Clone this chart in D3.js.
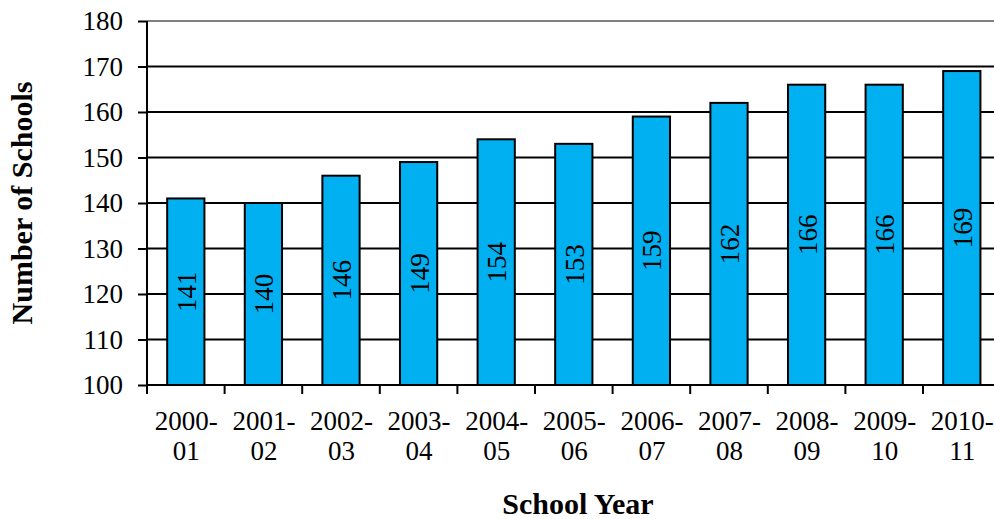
<!DOCTYPE html>
<meta charset="utf-8">
<style>
body { margin: 0; background: #fff; }
svg text { font-family: "Liberation Serif", "Times New Roman", serif; fill: #000; }
.tick-label { font-size: 27px; }
.title { font-size: 30px; font-weight: bold; }
.bar { fill: #00b0f0; stroke: #000; stroke-width: 2; }
.grid { stroke: #000; stroke-width: 2; }
</style>
<body>
<script src="https://d3js.org/d3.v7.min.js"></script>
<script>
// school years (two lines each) and number of schools
var years = ["2000-01", "2001-02", "2002-03", "2003-04", "2004-05", "2005-06",
             "2006-07", "2007-08", "2008-09", "2009-10", "2010-11"];
var schools = [141, 140, 146, 149, 154, 153, 159, 162, 166, 166, 169];
var yTicks = [100, 110, 120, 130, 140, 150, 160, 170, 180];

var width = 994, height = 519;
var plotLeft = 147, plotTop = 21, plotBottom = 385;

var svg = d3.select("body").append("svg")
    .attr("width", width)
    .attr("height", height);

var x = d3.scaleBand()
    .domain(years)
    .range([plotLeft, plotLeft + 11 * 77.6])
    .paddingInner(0.52)
    .paddingOuter(0.26);

var y = d3.scaleLinear()
    .domain([100, 180])
    .range([plotBottom, plotTop]);

// gridlines
svg.selectAll(".grid")
    .data(yTicks.filter(function(d) { return d > 100; }))
    .enter().append("line")
    .attr("class", "grid")
    .attr("x1", plotLeft).attr("x2", width)
    .attr("y1", function(d) { return y(d); })
    .attr("y2", function(d) { return y(d); })
    .style("stroke", function(d) { return d == 180 ? "#808080" : "#000"; });

// bars
svg.selectAll(".bar")
    .data(schools)
    .enter().append("rect")
    .attr("class", "bar")
    .attr("x", function(d, i) { return x(years[i]); })
    .attr("width", x.bandwidth())
    .attr("y", function(d) { return y(d); })
    .attr("height", function(d) { return y(100) - y(d); });

// value labels, rotated, centred in bar
svg.selectAll(".val")
    .data(schools)
    .enter().append("text")
    .attr("class", "tick-label")
    .attr("text-anchor", "middle")
    .attr("dominant-baseline", "central")
    .attr("transform", function(d, i) {
        var cx = x(years[i]) + x.bandwidth() / 2 + 1;
        var cy = (y(d) + y(100)) / 2;
        return "translate(" + cx + "," + cy + ") rotate(-90)";
    })
    .text(function(d) { return d; });

// y axis
var yAxis = svg.append("g")
    .attr("transform", "translate(" + plotLeft + ",0)")
    .call(d3.axisLeft(y).tickValues(yTicks).tickSize(9).tickPadding(15).tickFormat(d3.format("d")));
yAxis.selectAll("line").attr("stroke", "#000").attr("stroke-width", 2);
yAxis.select(".domain").attr("stroke", "#000").attr("stroke-width", 2)
    .attr("d", "M0," + plotBottom + "V" + plotTop);
yAxis.selectAll("text").attr("class", "tick-label");
yAxis.attr("font-size", null).attr("font-family", null);

// x axis
var xAxis = svg.append("g")
    .attr("transform", "translate(0," + plotBottom + ")")
    .call(d3.axisBottom(x).tickSize(0).tickFormat(""));
xAxis.select(".domain").attr("stroke", "#000").attr("stroke-width", 2)
    .attr("d", "M" + plotLeft + ",0H" + width);
xAxis.selectAll(".tick").remove();

// tick marks at category boundaries
svg.selectAll(".xtick")
    .data(years)
    .enter().append("line")
    .attr("x1", function(d) { return x(d) - x.step() * x.paddingOuter(); })
    .attr("x2", function(d) { return x(d) - x.step() * x.paddingOuter(); })
    .attr("y1", plotBottom).attr("y2", plotBottom + 9)
    .attr("stroke", "#000").attr("stroke-width", 2);

// category labels on two lines
var lab = svg.selectAll(".xlab")
    .data(years)
    .enter().append("text")
    .attr("class", "tick-label")
    .attr("text-anchor", "middle");
lab.append("tspan")
    .attr("x", function(d) { return x(d) + x.bandwidth() / 2 + 0.5; })
    .attr("y", 430)
    .text(function(d) { return d.split("-")[0] + "-"; });
lab.append("tspan")
    .attr("x", function(d) { return x(d) + x.bandwidth() / 2 + 0.5; })
    .attr("y", 460)
    .text(function(d) { return d.split("-")[1]; });

// titles
svg.append("text")
    .attr("class", "title")
    .attr("text-anchor", "middle")
    .attr("x", 578).attr("y", 514)
    .text("School Year");

svg.append("text")
    .attr("class", "title")
    .attr("text-anchor", "middle")
    .attr("transform", "translate(32,203) rotate(-90)")
    .text("Number of Schools");
</script>
</body>
